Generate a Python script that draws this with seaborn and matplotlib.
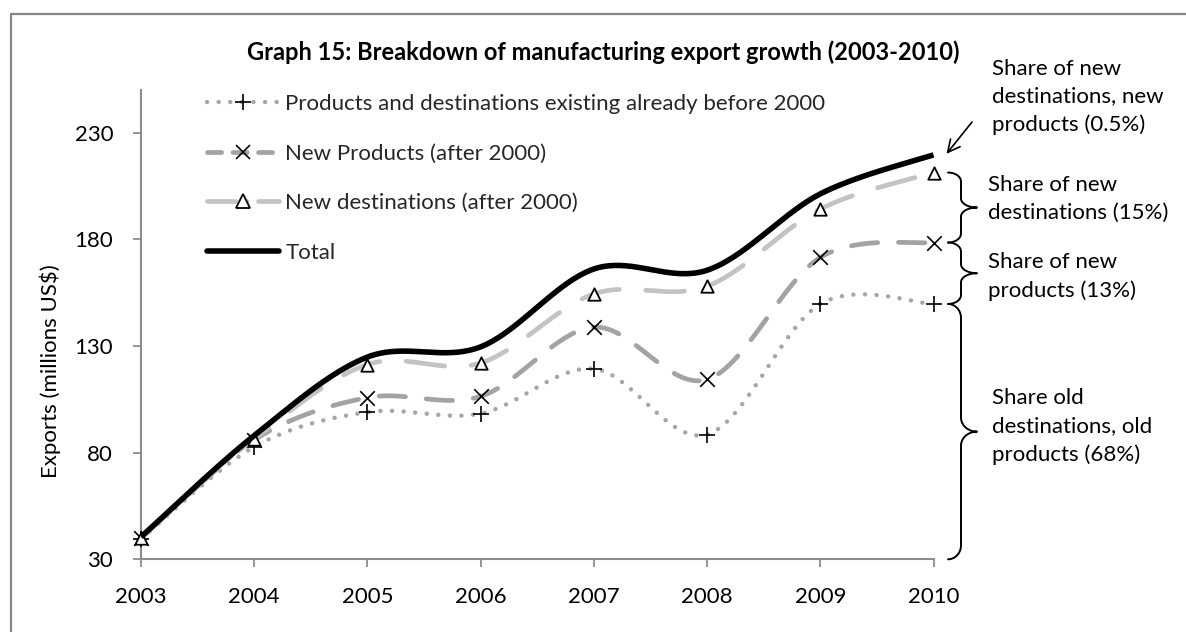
import numpy as np
import matplotlib
matplotlib.use("Agg")
import matplotlib.pyplot as plt
from matplotlib.lines import Line2D
import seaborn as sns

# ---- data (millions US$, cumulative layers) ----
years = [2003, 2004, 2005, 2006, 2007, 2008, 2009, 2010]
old_prod_old_dest = [39.5, 82.7, 99.0, 98.3, 119.3, 88.5, 149.7, 149.7]
plus_new_products = [40.0, 86.0, 105.8, 106.4, 138.8, 114.3, 171.5, 178.5]
plus_new_destinations = [40.0, 86.5, 121.3, 122.0, 154.4, 158.0, 194.2, 211.3]
total_exports = [40.5, 88.0, 124.8, 129.6, 166.1, 165.5, 201.3, 219.6]

series_labels = [
    "Products and destinations existing already before 2000",
    "New Products (after 2000)",
    "New destinations (after 2000)",
    "Total",
]
y_ticks = [30, 80, 130, 180, 230]
title = "Graph 15: Breakdown of manufacturing export growth (2003-2010)"
y_label = "Exports (millions US\\$)"
share_texts = [
    "Share of new\ndestinations, new\nproducts (0.5%)",
    "Share of new\ndestinations (15%)",
    "Share of new\nproducts (13%)",
    "Share old\ndestinations, old\nproducts (68%)",
]

W, H = 1186, 632
FS = 16
sns.set_theme(style="white")
plt.rcParams["font.family"] = ["Lato", "DejaVu Sans"]
plt.rcParams["lines.scale_dashes"] = True

fig = plt.figure(figsize=(W / 100, H / 100), dpi=100)
fig.patch.set_facecolor("white")

# plot area in pixel coordinates (left, right, bottom, top)
px_l, px_r, px_b, px_t = 141, 933.5, 559.3, 90
ax = fig.add_axes([px_l / W, 1 - px_b / H, (px_r - px_l) / W, (px_b - px_t) / H])
ax.set_facecolor("white")


def smooth_curve(xs, ys, steps=40):
    """Cubic Bezier smoothing through every point (spreadsheet-style)."""
    P = np.column_stack([np.asarray(xs, float), np.asarray(ys, float)])
    Pp = np.vstack([P[:1], P, P[-1:]])
    t = np.linspace(0, 1, steps)[1:, None]
    out = [P[:1]]
    for i in range(len(P) - 1):
        prev, cur, nxt, nxt2 = Pp[i], Pp[i + 1], Pp[i + 2], Pp[i + 3]
        c1 = cur + (nxt - prev) / 6.0
        c2 = nxt - (nxt2 - cur) / 6.0
        seg = ((1 - t) ** 3) * cur + 3 * ((1 - t) ** 2) * t * c1 \
            + 3 * (1 - t) * t ** 2 * c2 + t ** 3 * nxt
        out.append(seg)
    out = np.vstack(out)
    return out[:, 0], out[:, 1]


dotted = (0, (0.01, 2.6))
dashed = (0, (5.6, 4.4))
longdash = (0, (8.2, 5.6))
longdash_dot = (0, (6.0, 2.4, 0.01, 2.4))

styles = [
    dict(color="#A6A6A6", lw=3.2, ls=dotted, marker="+", msize=135),
    dict(color="#A3A3A3", lw=3.4, ls=dashed, marker="x", msize=110),
    dict(color="#C3C3C3", lw=3.4, ls=longdash, marker="^", msize=80),
    dict(color="black", lw=4.0, ls="-", marker=None, msize=0),
]
values = [old_prod_old_dest, plus_new_products, plus_new_destinations, total_exports]

for k, (vals, st) in enumerate(zip(values, styles)):
    sx, sy = smooth_curve(years, vals)
    sns.lineplot(x=sx, y=sy, ax=ax, sort=False, estimator=None, color=st["color"],
                 linewidth=st["lw"], linestyle=st["ls"], dash_capstyle="round",
                 solid_capstyle="butt", zorder=2 + 2 * k, legend=False)
    if st["marker"] == "^":
        sns.scatterplot(x=years, y=vals, ax=ax, marker="^", s=st["msize"],
                        facecolor="white", edgecolor="black", linewidth=1.3,
                        zorder=3 + 2 * k, legend=False, clip_on=False)
    elif st["marker"] is not None:
        sns.scatterplot(x=years, y=vals, ax=ax, marker=st["marker"], s=st["msize"],
                        color="black", linewidth=1.2, zorder=3 + 2 * k,
                        legend=False, clip_on=False)

ax.set_xlim(years[0], years[-1])
ax.set_ylim(30, 250)
ax.set_xticks(years)
ax.set_xticklabels([str(y) for y in years])
ax.set_yticks(y_ticks)
ax.set_xlabel("")
ax.set_ylabel("")
for side in ["top", "right"]:
    ax.spines[side].set_visible(False)
for side in ["left", "bottom"]:
    ax.spines[side].set_color("#8C8C8C")
    ax.spines[side].set_linewidth(1.5)
ax.tick_params(axis="both", direction="out", length=6, width=1.3, color="#8C8C8C",
               labelsize=FS, labelcolor="black", left=True, bottom=True)
ax.tick_params(axis="y", pad=14)
ax.tick_params(axis="x", pad=14)
ax.grid(False)

# legend
handles = [
    Line2D([], [], color=styles[0]["color"], lw=3.2, ls=dotted, dash_capstyle="round",
           marker="+", markersize=11.5, markeredgecolor="black", markeredgewidth=1.2),
    Line2D([], [], color=styles[1]["color"], lw=3.4, ls=(0, (3.0, 2.4)), dash_capstyle="round",
           marker="x", markersize=10.5, markeredgecolor="black", markeredgewidth=1.2),
    Line2D([], [], color=styles[2]["color"], lw=3.4, ls=longdash_dot, dash_capstyle="round",
           marker="^", markersize=9.5, markerfacecolor="white", markeredgecolor="black",
           markeredgewidth=1.3),
    Line2D([], [], color="black", lw=4.0, solid_capstyle="round"),
]
fig.legend(handles, series_labels, loc="upper left",
           bbox_to_anchor=(207 / W, 1 - 94 / H), frameon=False, fontsize=FS,
           handlelength=3.25, handletextpad=0.28, labelspacing=1.33,
           borderpad=0, borderaxespad=0)

# title and axis label
fig.text(603 / W, 1 - 52 / H, title, ha="center", va="center", fontsize=17,
         fontweight="bold", color="black")
fig.text(50 / W, 1 - 371 / H, y_label, ha="center", va="center", rotation=90,
         fontsize=FS, color="black")

# share annotations
text_pos = [(992, 97), (988.5, 199), (988.5, 276.5), (991.5, 426.7)]
for (tx, ty), s in zip(text_pos, share_texts):
    fig.text(tx / W, 1 - ty / H, s, ha="left", va="center", fontsize=FS,
             linespacing=1.5, color="black")


def brace(v_top, v_bot, r=10.0, x_end=948, x_body=961, x_tip=977):
    """Right-pointing curly brace between two data values at the last year."""
    to_disp = ax.transData.transform
    y0 = H - to_disp((years[-1], v_top))[1]
    y1 = H - to_disp((years[-1], v_bot))[1]
    ym = (y0 + y1) / 2
    t = np.linspace(0, np.pi / 2, 20)
    rx1, rx2 = x_body - x_end, x_tip - x_body
    a1 = np.column_stack([x_end + rx1 * np.sin(t), y0 + r - r * np.cos(t)])
    a2 = np.column_stack([x_tip - rx2 * np.cos(t), ym - r + r * np.sin(t)])
    a3 = np.column_stack([x_tip - rx2 * np.cos(t[::-1]), ym + r - r * np.sin(t[::-1])])
    a4 = np.column_stack([x_end + rx1 * np.sin(t[::-1]), y1 - r + r * np.cos(t[::-1])])
    pts = np.vstack([a1, a2, a3, a4])
    disp = np.column_stack([pts[:, 0], H - pts[:, 1]])
    data = ax.transData.inverted().transform(disp)
    ax.plot(data[:, 0], data[:, 1], color="black", lw=1.4, clip_on=False,
            solid_capstyle="round", zorder=20)


brace(plus_new_destinations[-1], plus_new_products[-1], r=9)
brace(plus_new_products[-1], old_prod_old_dest[-1], r=9)
brace(old_prod_old_dest[-1], 30, r=14)

# arrow pointing at the end of the total line
end_disp = ax.transData.transform((years[-1], total_exports[-1]))
ax.annotate("", xy=(end_disp[0] + 13, end_disp[1] + 1), xycoords="figure pixels",
            xytext=(972, H - 122), textcoords="figure pixels",
            arrowprops=dict(arrowstyle="->", color="black", lw=1.2,
                            mutation_scale=22, shrinkA=0, shrinkB=0))

# chart frame (left and top edges)
frame_c = "#878787"
fig.add_artist(Line2D([11 / W, 11 / W], [0, 1 - 14 / H], color=frame_c, lw=1.6,
                      transform=fig.transFigure))
fig.add_artist(Line2D([11 / W, 1], [1 - 14 / H, 1 - 14 / H], color=frame_c, lw=1.6,
                      transform=fig.transFigure))

fig.savefig("out.png", dpi=100, facecolor="white")
